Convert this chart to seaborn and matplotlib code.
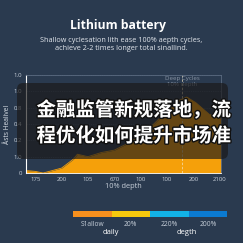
import matplotlib
matplotlib.use("Agg")
import matplotlib.pyplot as plt
import matplotlib.patheffects as pe
from matplotlib.patches import FancyBboxPatch
import seaborn as sns
import numpy as np
import pandas as pd

# ---- data ----
x_ticklabels = ["175", "200", "105", "670", "100", "100", "200", "2100"]
y_ticks = [0, 0.2, 0.4, 0.6, 0.8, 1.0, 1.2]
y_ticklabels = ["0", "1.0", "0.2", "0.4", "0.8", "1.0", "1.0"]
area_x = [-0.35, 0.0, 0.3, 1.0, 1.45, 1.6, 2.0, 2.5, 3.0, 3.5, 4.0, 4.5, 5.0, 5.4, 5.75, 6.1, 6.6, 7.05]
area_y = [0.03, 0.02, 0.0, 0.06, 0.17, 0.23, 0.20, 0.25, 0.28, 0.36, 0.46, 0.60, 0.76, 0.88, 0.93, 0.86, 0.72, 0.66]
marker_x = 5.57
legend_labels = ["S1allow", "20%", "220%", "200%"]
legend_colors = ["#f7901e", "#f6c90e", "#12b2e6", "#0b7ad1"]
legend_sub = ["daily", "degth"]

BG = "#2a3a4f"
ORANGE = "#f5a00a"
TXT = "#c8d0da"

sns.set_theme(style="dark")
plt.rcParams["font.family"] = ["Open Sans", "DejaVu Sans"]

fig = plt.figure(figsize=(2.43, 2.43), dpi=100, facecolor=BG)

# ---- main axes ----
ax = fig.add_axes([26/243, 1-173/243, (221-26)/243, (173-75)/243])
ax.set_facecolor(BG)
df = pd.DataFrame({"x": area_x, "y": area_y})
sns.lineplot(data=df, x="x", y="y", ax=ax, color=ORANGE, linewidth=0.6)
ax.fill_between(df["x"], df["y"], 0, color=ORANGE, linewidth=0)
ax.axvline(marker_x, color="#f3e3c0", linestyle=(0, (3, 2)), linewidth=0.6, alpha=0.8)
ax.set_xlim(-0.35, 7.05)
ax.set_ylim(0, 1.2)
ax.set_xticks(range(len(x_ticklabels)))
ax.set_xticklabels(x_ticklabels)
ax.set_yticks(y_ticks)
ax.set_yticklabels(y_ticklabels)
ax.tick_params(axis="both", colors=TXT, labelsize=4.3, length=1.5, width=0.5, pad=1.5)
ax.tick_params(axis="x", colors="white")
for lab in ax.get_xticklabels() + ax.get_yticklabels():
    lab.set_color(TXT)
ax.grid(axis="y", color="#6a7a90", linestyle=(0, (2, 2)), linewidth=0.4, alpha=0.6)
ax.grid(axis="x", visible=False)
ax.set_xlabel("10% depth", color=TXT, fontsize=5.3, labelpad=0.5)
ax.set_ylabel("Åsts Healivel", color="#dde3ea", fontsize=4.8, labelpad=2)
for side in ["top", "right"]:
    ax.spines[side].set_visible(True)
    ax.spines[side].set_color("#5a6a80")
    ax.spines[side].set_linewidth(0.6)
ax.spines["left"].set_color("white")
ax.spines["left"].set_linewidth(0.8)
ax.spines["bottom"].set_color("white")
ax.spines["bottom"].set_linewidth(0.6)
ax.text(marker_x, 1.12, "Deep Cycles\n10% depth", color="#8a96a6", fontsize=4.4,
        ha="center", va="center", linespacing=1.1)

# ---- titles ----
fig.text(118/243, 1-25/243, "Lithium battery", color="white", fontsize=8.7,
         fontweight="bold", ha="center", va="center")
fig.text(121/243, 1-40/243, "Shallow cyclesation lith ease 100% aepth cycles,",
         color="#e4e8ee", fontsize=5.2, ha="center", va="center")
fig.text(121/243, 1-49/243, "achieve 2-2 times longer total sinallind.",
         color="#e4e8ee", fontsize=5.2, ha="center", va="center")

# ---- legend bar ----
lax = fig.add_axes([73/243, 1-217/243, (227-73)/243, 6/243])
lax.barh([0]*len(legend_colors), [1]*len(legend_colors),
         left=list(range(len(legend_colors))), color=legend_colors, height=1, linewidth=0)
lax.set_xlim(0, len(legend_colors))
lax.set_ylim(-0.5, 0.5)
lax.axis("off")
for i, lab in enumerate(legend_labels):
    fig.text((73 + 38.5*(i+0.5))/243, 1-224/243, lab, color=TXT, fontsize=4.8,
             ha="center", va="center")
fig.text(111/243, 1-232/243, legend_sub[0], color="white", fontsize=5.5, ha="center", va="center")
fig.text(187/243, 1-232/243, legend_sub[1], color="white", fontsize=5.5, ha="center", va="center")

# ---- overlay box ----
box = FancyBboxPatch((17/243, 1-159/243), (228-17)/243, (159-83)/243,
                     boxstyle="round,pad=0,rounding_size=0.025",
                     transform=fig.transFigure, facecolor="#1a1818", alpha=0.66,
                     edgecolor="none", zorder=10)
fig.patches.append(box)
for txt, yy in [("金融监管新规落地，流", 110), ("程优化如何提升市场准", 136)]:
    fig.text(134/243, 1-yy/243, txt, color="white", fontsize=14, fontweight="bold",
             family=["Noto Sans CJK SC", "DejaVu Sans"], ha="center", va="center", zorder=11,
             path_effects=[pe.withStroke(linewidth=2, foreground="#111111")])

fig.savefig("out.png", dpi=100, facecolor=BG)
